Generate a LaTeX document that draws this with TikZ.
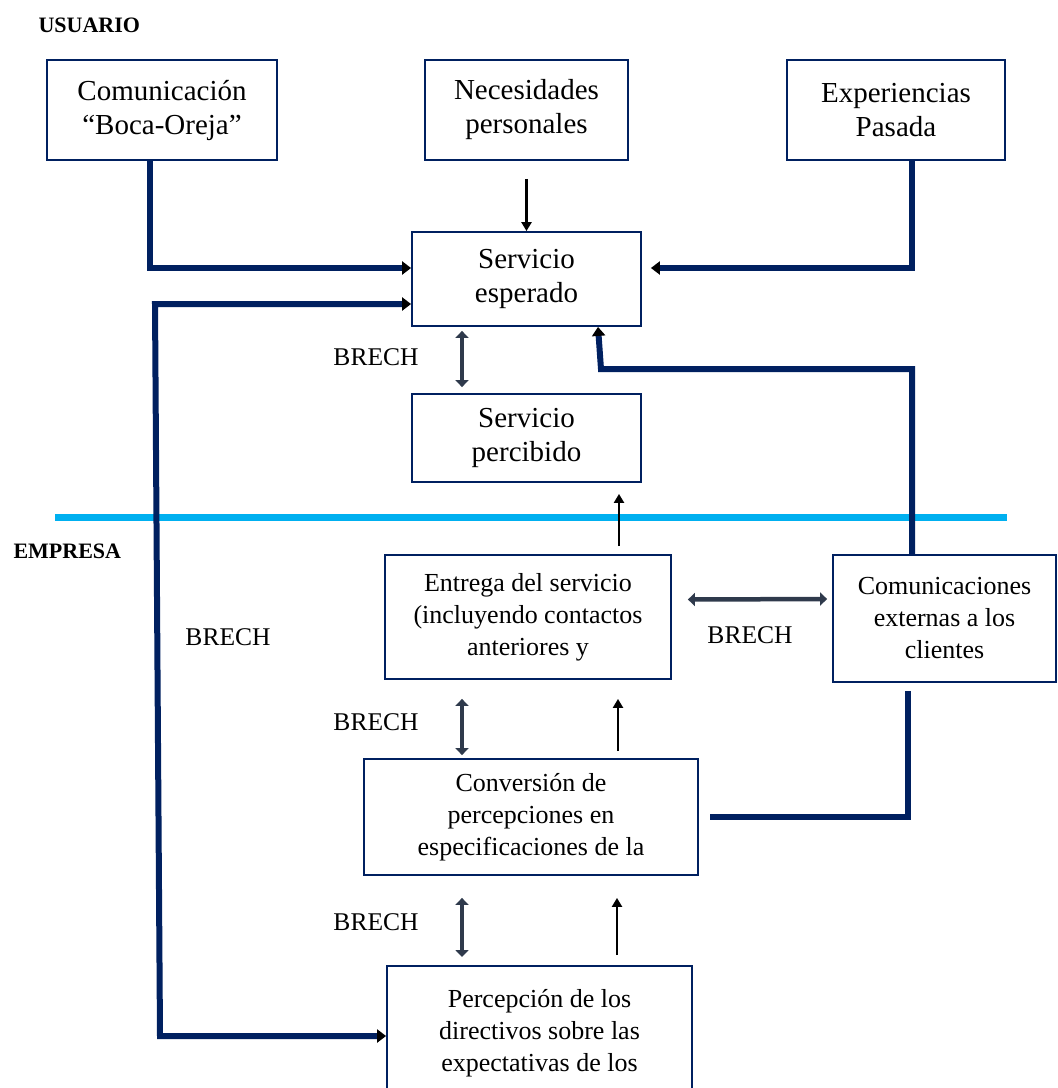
\documentclass[tikz,border=0pt]{standalone}
\usepackage{fontspec}
\setmainfont{Liberation Serif}
\usetikzlibrary{arrows.meta,positioning,calc}
\definecolor{navy}{HTML}{002060}
\definecolor{sky}{HTML}{00B0F0}
\definecolor{slate}{HTML}{2F3A4C}

\begin{document}
\begin{tikzpicture}[x=1pt,y=-1pt,
          box/.style={draw=navy, line width=1.8pt, fill=white, inner sep=4pt, align=center, font=\fontsize{29}{34}\selectfont},
          sbox/.style={box, font=\fontsize{26}{32}\selectfont},
          tag/.style={font=\fontsize{25.5}{30}\selectfont},
          head/.style={anchor=west, font=\bfseries\fontsize{22}{26}\selectfont},
          thk/.style={navy, line width=6pt},
          arr/.style={-{Triangle[length=9pt,width=13pt,color=black]}},
          arrs/.style={{Triangle[length=9pt,width=13pt,color=black]}-{Triangle[length=9pt,width=13pt,color=black]}},
          blk/.style={-{Triangle[length=9pt,width=10pt]}, black, line width=2.8pt},
          gap/.style={{Triangle[length=7pt,width=13pt]}-{Triangle[length=7pt,width=13pt]}, slate, line width=4.5pt}]
        \useasboundingbox (0,0) rectangle (1058,1088);
        \clip (0,0) rectangle (1058,1088);
        \node[head] (usuario) at (35,25) {USUARIO};
        \node[box, minimum width=230pt, minimum height=100pt] (boca) at (162,110) {Comunicación\\“Boca-Oreja”};
        \node[box, minimum width=203pt, minimum height=100pt] (necesidades) at (526.5,110) {Necesidades\\personales};
        \node[box, minimum width=218pt, minimum height=100pt] (pasada) at (896,110) {Experiencias\\Pasada};
        \node[box, minimum width=229pt, minimum height=94pt] (esperado) at (526.5,279) {Servicio\\esperado};
        \node[box, minimum width=229pt, minimum height=88pt] (percibido) at (526.5,438) {Servicio\\percibido};
        \draw[sky, line width=7pt] (55,517) -- (1007,517);
        \node[head] (empresa) at (10,551) {EMPRESA};
        \node[sbox, minimum width=286pt, minimum height=124pt] (entrega) at (528,617) {Entrega del servicio\\(incluyendo contactos\\anteriores y};
        \node[sbox, minimum width=223pt, minimum height=127pt] (externas) at (944.5,618.5) {Comunicaciones\\externas a los\\clientes};
        \node[sbox, minimum width=334pt, minimum height=116pt] (conversion) at (531,817) {Conversión de\\percepciones en\\especificaciones de la};
        \node[sbox, minimum width=305pt, anchor=north, inner ysep=24pt] (directivos) at (539.5,965) {Percepción de los\\directivos sobre las\\expectativas de los\\\mbox{}};
        \node[tag] (brecha1) at (376,357) {BRECH};
        \node[tag] (brecha2) at (228,637) {BRECH};
        \node[tag] (brecha3) at (750,635) {BRECH};
        \node[tag] (brecha4) at (376,722) {BRECH};
        \node[tag] (brecha5) at (376,922) {BRECH};
        \coordinate (lefttop) at (155,304);
        \coordinate (leftbot) at (160,1036);
        \coordinate (elbow) at (601,369);
        \draw[thk, arr] ([xshift=-12pt]boca.south) |- ([yshift=11pt]esperado.west);
        \draw[blk] ([yshift=-18pt]necesidades.south) -- (esperado.north);
        \draw[thk, arr] ([xshift=16pt]pasada.south) |- ([xshift=9pt,yshift=11pt]esperado.east);
        \draw[thk, arrs] ([yshift=-25pt]esperado.west) -- (lefttop) -- (leftbot) -- (leftbot -| directivos.west);
        \draw[thk, arr] ([xshift=-32.5pt]externas.north) |- (elbow) -- ([xshift=71.5pt]esperado.south);
        \draw[thk] ([xshift=-36.5pt,yshift=-8pt]externas.south) |- ([xshift=11pt]conversion.east);
        \draw[blk] ([xshift=91pt,yshift=8pt]entrega.north) -- ([xshift=92.5pt,yshift=-11pt]percibido.south);
        \draw[blk] ([xshift=87pt,yshift=7pt]conversion.north) -- ([xshift=90pt,yshift=-19pt]entrega.south);
        \draw[blk] ([xshift=77.5pt,yshift=10pt]directivos.north) -- ([xshift=86pt,yshift=-22pt]conversion.south);
        \draw[gap] ([xshift=-64.5pt,yshift=-4pt]esperado.south) -- ([xshift=-64.5pt,yshift=6pt]percibido.north);
        \draw[gap] ([xshift=-66pt,yshift=-19pt]entrega.south) -- ([xshift=-69pt,yshift=3pt]conversion.north);
        \draw[gap] ([xshift=-69pt,yshift=-22pt]conversion.south) -- ([xshift=-77.5pt,yshift=8pt]directivos.north);
        \draw[gap] ([xshift=16pt,yshift=17.5pt]entrega.east) -- ([xshift=-5pt,yshift=19.5pt]externas.west);
      \end{tikzpicture}
\end{document}
